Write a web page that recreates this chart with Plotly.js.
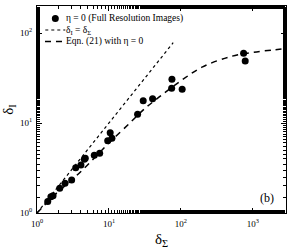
<!DOCTYPE html>
<html><head><meta charset="utf-8">
<script src="https://cdn.plot.ly/plotly-3.0.1.min.js"></script>
<style>html,body{margin:0;padding:0;background:#fff}#plot{width:293px;height:251px}</style>
</head><body><div id="plot"></div>
<script>
// Data points (eta = 0, full resolution images)
const pointsX = [1.41, 1.56, 1.67, 2.07, 2.45, 3.03, 3.45, 4.08, 4.54, 4.69, 6.25, 7.43, 9.6, 10.4, 11.0, 25.0, 29.9, 40.4, 74.3, 75.0, 104, 743, 782];
const pointsY = [1.34, 1.52, 1.55, 1.88, 2.14, 2.33, 3.19, 3.41, 3.95, 4.05, 4.38, 4.61, 6.36, 7.8, 6.76, 12.5, 17.7, 18.6, 24.3, 30.6, 23.7, 59.5, 48.8];
// Identity line
const identX = [1, 78];
const identY = [1, 78];
// Eqn. (21) curve
const eqnX = [1, 2, 3, 5, 10, 20, 30, 50, 100, 200, 500, 1000, 2000, 2900];
const eqnY = [1, 1.75, 2.3, 3.4, 6.0, 10.2, 14, 19.5, 29.5, 42, 55, 61, 65, 67];
// Tick labels
const xTickVals = [1, 10, 100, 1000];
const xTickText = ['10<sup>0</sup>', '10<sup>1</sup>', '10<sup>2</sup>', '10<sup>3</sup>'];
const yTickVals = [1, 10, 100];
const yTickText = ['10<sup>0</sup>', '10<sup>1</sup>', '10<sup>2</sup>'];
// Legend labels
const legendLabels = ['η = 0 (Full Resolution Images)', 'δ<sub>I</sub> = δ<sub>Σ</sub>', 'Eqn. (21) with η = 0'];

const serif = 'Liberation Serif, Times New Roman, serif';
const traces = [
  {x: pointsX, y: pointsY, mode: 'markers', type: 'scatter', name: legendLabels[0],
   marker: {color: '#000', size: 7}},
  {x: identX, y: identY, mode: 'lines', type: 'scatter', name: legendLabels[1],
   line: {color: '#000', width: 1.2, dash: 'dot'}},
  {x: eqnX, y: eqnY, mode: 'lines', type: 'scatter', name: legendLabels[2],
   line: {color: '#000', width: 1.5, dash: '6px,5px', shape: 'spline'}}
];
const axisCommon = {type: 'log', showline: true, linecolor: '#000', linewidth: 1, mirror: 'ticks',
  ticks: 'inside', ticklen: 5, tickcolor: '#000', showgrid: false, zeroline: false,
  tickfont: {family: serif, size: 9, color: '#000'}, ticklabelstandoff: 2,
  minor: {ticks: 'inside', ticklen: 3, tickcolor: '#000', showgrid: false}};
const legFont = {family: serif, size: 9.5, color: '#000'};
const layout = {
  width: 293, height: 251,
  margin: {l: 37, r: 7, t: 6, b: 38},
  paper_bgcolor: '#fff', plot_bgcolor: '#fff',
  showlegend: false,
  xaxis: Object.assign({}, axisCommon, {range: [0, 3.46], tickvals: xTickVals, ticktext: xTickText,
    title: {text: 'δ<sub>Σ</sub>', font: {family: serif, size: 15, color: '#000'}, standoff: 5}}),
  yaxis: Object.assign({}, axisCommon, {range: [0, 2.3], tickvals: yTickVals, ticktext: yTickText,
    title: {text: 'δ<sub>I</sub>', font: {family: serif, size: 15, color: '#000'}, standoff: 2}}),
  shapes: [
    {type: 'circle', xref: 'paper', yref: 'paper', xsizemode: 'pixel', ysizemode: 'pixel',
     xanchor: 0.0736, yanchor: 0.9396, x0: -3.5, x1: 3.5, y0: -3.5, y1: 3.5,
     fillcolor: '#000', line: {width: 0}},
    {type: 'line', xref: 'paper', yref: 'paper', x0: 0.0333, x1: 0.1136, y0: 0.884, y1: 0.884,
     line: {color: '#000', width: 1.2, dash: 'dot'}},
    {type: 'line', xref: 'paper', yref: 'paper', x0: 0.0321, x1: 0.1004, y0: 0.8285, y1: 0.8285,
     line: {color: '#000', width: 1.5, dash: '6px,5px'}}
  ],
  annotations: [
    {text: legendLabels[0], xref: 'paper', yref: 'paper', x: 0.114, y: 0.9396, xanchor: 'left', yanchor: 'middle',
     showarrow: false, font: legFont, borderpad: 0},
    {text: legendLabels[1], xref: 'paper', yref: 'paper', x: 0.114, y: 0.884, xanchor: 'left', yanchor: 'middle',
     showarrow: false, font: legFont, borderpad: 0},
    {text: legendLabels[2], xref: 'paper', yref: 'paper', x: 0.114, y: 0.8285, xanchor: 'left', yanchor: 'middle',
     showarrow: false, font: legFont, borderpad: 0},
    {text: '(b)', xref: 'paper', yref: 'paper', x: 0.96, y: 0.0725, xanchor: 'right', yanchor: 'middle',
     showarrow: false, font: {family: serif, size: 12, color: '#000'}}
  ]
};
Plotly.newPlot('plot', traces, layout, {displayModeBar: false, staticPlot: true});
</script></body></html>
